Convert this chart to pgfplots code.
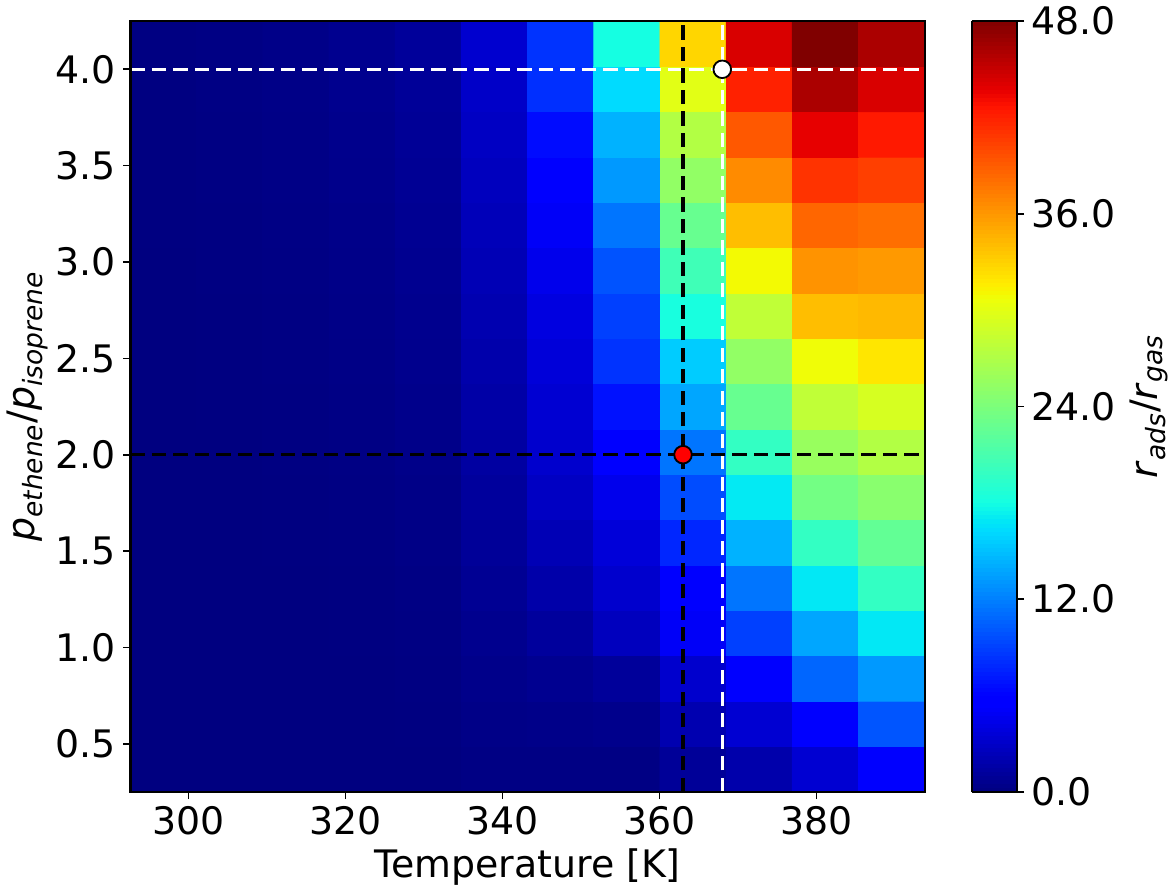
\documentclass[border=0pt]{standalone}
\usepackage{fontspec}
\setmainfont{DejaVu Sans}
\usepackage{pgfplots}
\pgfplotsset{compat=1.18}

% matplotlib "jet"
\pgfplotsset{
  colormap={mpljet}{rgb(0pt)=(0,0,0.5); rgb(110pt)=(0,0,1); rgb(125pt)=(0,0,1);
    rgb(340pt)=(0,0.86,1); rgb(350pt)=(0,0.9,0.968); rgb(375pt)=(0.081,1,0.887);
    rgb(640pt)=(0.935,1,0.032); rgb(650pt)=(0.968,0.963,0); rgb(660pt)=(1,0.926,0);
    rgb(890pt)=(1,0.074,0); rgb(910pt)=(0.909,0,0); rgb(1000pt)=(0.5,0,0)},
  every axis/.append style={
    /pgf/number format/assume math mode=true,
    tick label style={font=\fontsize{18.5}{22}\selectfont},
    label style={font=\fontsize{18.5}{22}\selectfont},
    tick align=outside,
    major tick length=3.5pt,
    axis line style={line width=1pt},
    every tick/.style={black, line width=0.8pt},
  },
}

\begin{document}
\begin{tikzpicture}
\begin{axis}[
    scale only axis,
    width=388pt, height=376.5pt,
    axis on top,
    xmin=292.6, xmax=393.8,
    ymin=0.25, ymax=4.25,
    xtick={300,320,340,360,380},
    ytick={0.5,1.0,1.5,2.0,2.5,3.0,3.5,4.0},
    yticklabel style={/pgf/number format/.cd, fixed, fixed zerofill, precision=1},
    xtick pos=left, ytick pos=left,
    xlabel={Temperature [K]},
    ylabel={\textit{p}\textsubscript{\textit{ethene}}/\textit{p}\textsubscript{\textit{isoprene}}},
    ylabel style={yshift=-3pt},
    colormap name=mpljet,
    point meta min=0, point meta max=48,
    colorbar sampled,
    colorbar style={
        samples=193,
        at={(parent axis.north east)}, anchor=north west,
        xshift=14.5pt, width=22pt,
        ytick={0,12,24,36,48},
        ytick pos=right,
        yticklabel style={/pgf/number format/.cd, fixed, fixed zerofill, precision=1},
        ylabel={\textit{r}\textsubscript{\textit{ads}}/\textit{r}\textsubscript{\textit{gas}}},
    },
]
\addplot[matrix plot*, mesh/cols=12, point meta=explicit] table[meta=c] {
x y c
296.82 0.3676 0
305.25 0.3676 0
313.68 0.3676 0
322.12 0.3676 0
330.55 0.3676 0.02
338.98 0.3676 0.2
347.42 0.3676 0.2
355.85 0.3676 0.2
364.28 0.3676 1.0
372.72 0.3676 1.8
381.15 0.3676 3.4
389.58 0.3676 5.8
296.82 0.6029 0
305.25 0.6029 0
313.68 0.6029 0
322.12 0.6029 0.01
330.55 0.6029 0.05
338.98 0.6029 0.3
347.42 0.6029 0.4
355.85 0.6029 0.5
364.28 0.6029 2.0
372.72 0.6029 3.4
381.15 0.6029 5.8
389.58 0.6029 10.0
296.82 0.8382 0
305.25 0.8382 0
313.68 0.8382 0.01
322.12 0.8382 0.03
330.55 0.8382 0.09
338.98 0.8382 0.45
347.42 0.8382 0.7
355.85 0.8382 1.1
364.28 0.8382 3.2
372.72 0.8382 5.8
381.15 0.8382 10.8
389.58 0.8382 13.2
296.82 1.0735 0
305.25 1.0735 0
313.68 1.0735 0.02
322.12 1.0735 0.05
330.55 1.0735 0.14
338.98 1.0735 0.6
347.42 1.0735 1.2
355.85 1.0735 2.6
364.28 1.0735 5.0
372.72 1.0735 9.0
381.15 1.0735 13.8
389.58 1.0735 16.9
296.82 1.3088 0
305.25 1.3088 0.01
313.68 1.3088 0.03
322.12 1.3088 0.08
330.55 1.3088 0.2
338.98 1.3088 0.8
347.42 1.3088 1.7
355.85 1.3088 3.2
364.28 1.3088 6.0
372.72 1.3088 11.5
381.15 1.3088 16.9
389.58 1.3088 19.8
296.82 1.5441 0
305.25 1.5441 0.02
313.68 1.5441 0.05
322.12 1.5441 0.11
330.55 1.5441 0.26
338.98 1.5441 1.0
347.42 1.5441 2.2
355.85 1.5441 3.7
364.28 1.5441 7.8
372.72 1.5441 14.4
381.15 1.5441 19.8
389.58 1.5441 22.5
296.82 1.7794 0
305.25 1.7794 0.03
313.68 1.7794 0.07
322.12 1.7794 0.15
330.55 1.7794 0.33
338.98 1.7794 1.2
347.42 1.7794 2.8
355.85 1.7794 4.5
364.28 1.7794 9.6
372.72 1.7794 17.0
381.15 1.7794 23.5
389.58 1.7794 24.8
296.82 2.0147 0
305.25 2.0147 0.04
313.68 2.0147 0.09
322.12 2.0147 0.19
330.55 2.0147 0.4
338.98 2.0147 1.4
347.42 2.0147 3.2
355.85 2.0147 5.8
364.28 2.0147 11.5
372.72 2.0147 19.8
381.15 2.0147 25.7
389.58 2.0147 27.2
296.82 2.2500 0
305.25 2.2500 0.05
313.68 2.2500 0.11
322.12 2.2500 0.23
330.55 2.2500 0.47
338.98 2.2500 1.6
347.42 2.2500 3.4
355.85 2.2500 6.8
364.28 2.2500 13.8
372.72 2.2500 22.8
381.15 2.2500 28.0
389.58 2.2500 29.3
296.82 2.4853 0.02
305.25 2.4853 0.06
313.68 2.4853 0.13
322.12 2.4853 0.27
330.55 2.4853 0.54
338.98 2.4853 1.8
347.42 2.4853 3.7
355.85 2.4853 8.4
364.28 2.4853 15.6
372.72 2.4853 25.3
381.15 2.4853 30.8
389.58 2.4853 32.0
296.82 2.7206 0.03
305.25 2.7206 0.08
313.68 2.7206 0.16
322.12 2.7206 0.31
330.55 2.7206 0.61
338.98 2.7206 2.0
347.42 2.7206 4.0
355.85 2.7206 9.0
364.28 2.7206 18.2
372.72 2.7206 28.0
381.15 2.7206 34.0
389.58 2.7206 34.3
296.82 2.9559 0.04
305.25 2.9559 0.1
313.68 2.9559 0.19
322.12 2.9559 0.36
330.55 2.9559 0.68
338.98 2.9559 2.2
347.42 2.9559 4.5
355.85 2.9559 9.9
364.28 2.9559 20.5
372.72 2.9559 31.0
381.15 2.9559 36.2
389.58 2.9559 35.9
296.82 3.1912 0.05
305.25 3.1912 0.12
313.68 3.1912 0.22
322.12 3.1912 0.41
330.55 3.1912 0.76
338.98 3.1912 2.4
347.42 3.1912 5.0
355.85 3.1912 11.5
364.28 3.1912 22.8
372.72 3.1912 34.0
381.15 3.1912 38.5
389.58 3.1912 38.1
296.82 3.4265 0.06
305.25 3.4265 0.14
313.68 3.4265 0.25
322.12 3.4265 0.46
330.55 3.4265 0.84
338.98 3.4265 2.6
347.42 3.4265 5.6
355.85 3.4265 13.2
364.28 3.4265 25.3
372.72 3.4265 36.6
381.15 3.4265 41.1
389.58 3.4265 40.5
296.82 3.6618 0.07
305.25 3.6618 0.16
313.68 3.6618 0.28
322.12 3.6618 0.52
330.55 3.6618 0.92
338.98 3.6618 2.8
347.42 3.6618 6.5
355.85 3.6618 14.4
364.28 3.6618 27.2
372.72 3.6618 39.2
381.15 3.6618 43.7
389.58 3.6618 42.4
296.82 3.8971 0.08
305.25 3.8971 0.18
313.68 3.8971 0.32
322.12 3.8971 0.58
330.55 3.8971 1.0
338.98 3.8971 3.0
347.42 3.8971 8.2
355.85 3.8971 16.3
364.28 3.8971 30.0
372.72 3.8971 42.0
381.15 3.8971 46.2
389.58 3.8971 44.3
296.82 4.1324 0.1
305.25 4.1324 0.2
313.68 4.1324 0.36
322.12 4.1324 0.65
330.55 4.1324 1.1
338.98 4.1324 3.3
347.42 4.1324 8.4
355.85 4.1324 18.0
364.28 4.1324 32.8
372.72 4.1324 44.3
381.15 4.1324 48.0
389.58 4.1324 46.2
};
% guide lines
\addplot[white, line width=1.5pt, dash pattern=on 7pt off 3.5pt] coordinates {(292.6,4.0) (393.8,4.0)};
\addplot[white, line width=1.5pt, dash pattern=on 7pt off 3.5pt] coordinates {(368,0.25) (368,4.25)};
\addplot[black, line width=1.5pt, dash pattern=on 7pt off 3.5pt] coordinates {(292.6,2.0) (393.8,2.0)};
\addplot[black, line width=1.5pt, dash pattern=on 7pt off 3.5pt] coordinates {(363,0.25) (363,4.25)};
% points
\addplot[only marks, mark=*, mark size=4.3pt, mark options={fill=red, draw=black, line width=0.9pt}] coordinates {(363,2.0)};
\addplot[only marks, mark=*, mark size=4.3pt, mark options={fill=white, draw=black, line width=0.9pt}] coordinates {(368,4.0)};
\end{axis}
% empty overlay axis: draws the black frame on top of the heat map
\begin{axis}[
    scale only axis,
    width=388pt, height=376.5pt,
    xmin=292.6, xmax=393.8,
    ymin=0.25, ymax=4.25,
    xtick=\empty, ytick=\empty,
    axis line style={black, line width=1.2pt},
]
\end{axis}
\end{tikzpicture}
\end{document}
